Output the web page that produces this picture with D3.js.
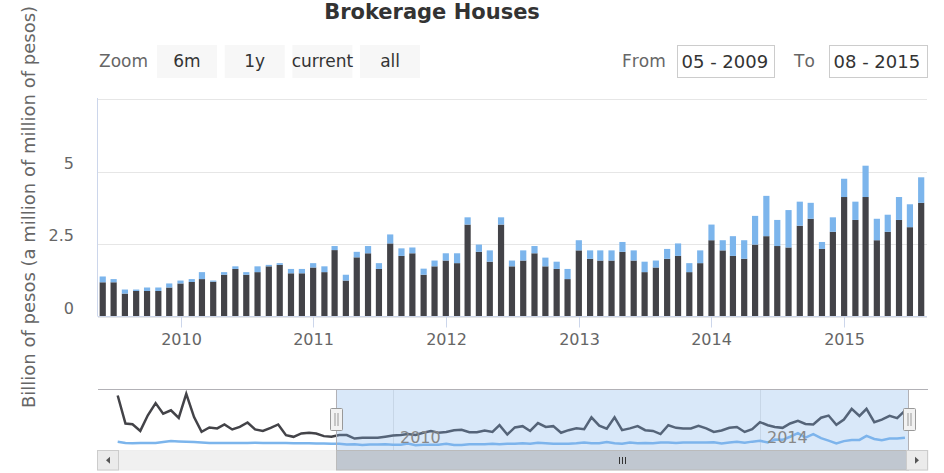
<!DOCTYPE html>
<html>
<head>
<meta charset="utf-8">
<script src="https://cdn.jsdelivr.net/npm/d3@7"></script>
<style>
body { margin: 0; background: #fff; }
svg { display: block; font-family: 'DejaVu Sans', sans-serif; }
</style>
</head>
<body>
<svg id="chart" width="944" height="473"></svg>
<script>
var chartTitle = 'Brokerage Houses';
var yAxisTitle = 'Billion of pesos (a million of million of pesos)';
var zoomLabel = 'Zoom';
var zoomButtons = ['6m', '1y', 'current', 'all'];
var rangeFrom = '05 - 2009', rangeTo = '08 - 2015';

// monthly values, first month = Jan 2007
var firstYear = 2007;
var darkSeries = [
	5.63, 2.48, 2.40, 1.65, 3.40, 4.77, 3.59, 3.96, 3.10, 5.82, 3.20, 1.54,   // 2007
	2.03, 1.92, 2.37, 1.81, 2.10, 2.59, 1.81, 1.65, 1.99, 2.37, 1.17, 0.98,   // 2008
	1.36, 1.43, 1.36, 1.06, 0.98, 1.18, 1.18, 0.79, 0.88, 0.88, 0.88, 1.00,   // 2009
	1.14, 1.19, 1.29, 1.20, 1.44, 1.64, 1.44, 1.53, 1.73, 1.78, 1.49, 1.49,   // 2010
	1.69, 1.53, 2.29, 1.24, 2.04, 2.18, 1.64, 2.52, 2.09, 2.18, 1.44, 1.73,   // 2011
	1.93, 1.84, 3.17, 2.23, 1.89, 3.17, 1.73, 1.93, 2.18, 1.73, 1.64, 1.29,   // 2012
	2.28, 1.99, 1.93, 1.93, 2.23, 1.93, 1.53, 1.69, 1.99, 2.09, 1.53, 1.84,   // 2013
	2.63, 2.28, 2.09, 1.99, 2.48, 2.77, 2.43, 2.38, 3.13, 3.37, 2.33, 2.92,   // 2014
	4.12, 3.33, 4.12, 2.63, 2.92, 3.33, 3.08, 3.92                            // 2015
];
var blueSeries = [
	0.42, 0.30, 0.25, 0.30, 0.30, 0.30, 0.40, 0.50, 0.45, 0.42, 0.40, 0.35,
	0.30, 0.30, 0.30, 0.28, 0.30, 0.30, 0.32, 0.28, 0.30, 0.30, 0.28, 0.25,
	0.25, 0.25, 0.22, 0.22, 0.20, 0.20, 0.11, 0.14, 0.05, 0.12, 0.12, 0.14,
	0.10, 0.10, 0.24, 0.04, 0.09, 0.09, 0.09, 0.20, 0.05, 0.06, 0.15, 0.15,
	0.15, 0.20, 0.14, 0.20, 0.19, 0.25, 0.20, 0.31, 0.26, 0.20, 0.21, 0.20,
	0.25, 0.34, 0.25, 0.25, 0.39, 0.25, 0.20, 0.35, 0.25, 0.30, 0.25, 0.35,
	0.35, 0.29, 0.35, 0.35, 0.34, 0.35, 0.36, 0.24, 0.34, 0.43, 0.31, 0.44,
	0.54, 0.35, 0.68, 0.64, 0.99, 1.39, 0.90, 1.29, 0.83, 0.55, 0.24, 0.50,
	0.63, 0.63, 1.08, 0.74, 0.59, 0.79, 0.79, 0.88
];

var yTicks = [0, 2.5, 5, 7.5];
var yTickLabels = ['0', '2.5', '5', ''];
var xYears = [2010, 2011, 2012, 2013, 2014, 2015];
var navYears = [2010, 2014];

var colorBlue = '#7cb5ec', colorDark = '#434348';

var svg = d3.select('#chart');

// visible window of the main chart (May 19 2009 - Aug 17 2015)
var viewStart = new Date(Date.UTC(2009, 4, 19)),
	viewEnd = new Date(Date.UTC(2015, 7, 17));

var plot = {l: 98, r: 927, t: 98, b: 316.5};

var rows = darkSeries.map(function(v, i) {
	return {date: new Date(Date.UTC(firstYear, i, 1)), dark: v, blue: blueSeries[i]};
});

var x = d3.scaleUtc().domain([viewStart, viewEnd]).range([plot.l, plot.r]);
var y = d3.scaleLinear().domain([0, 7.5]).range([plot.b, 99]);

// Title
svg.append('text').attr('x', 432).attr('y', 19).attr('text-anchor', 'middle').
	style('font-size', '21px').style('font-weight', 'bold').style('fill', '#333').
	text(chartTitle);

// Range selector buttons
svg.append('text').attr('x', 99).attr('y', 67).style('font-size', '17px').style('fill', '#666').
	text(zoomLabel);

var btn = svg.append('g').selectAll('g').data(zoomButtons).enter().append('g').
	attr('transform', function(d, i) { return 'translate(' + (157 + i * 67.7) + ',45)'; });
btn.append('rect').attr('width', 60).attr('height', 33).style('fill', '#f7f7f7');
btn.append('text').attr('x', 30).attr('y', 22).attr('text-anchor', 'middle').
	style('font-size', '17px').style('fill', '#333').text(function(d) { return d; });

// From / To inputs
var inputs = [
	{label: 'From', value: rangeFrom, lx: 622, bx: 677.5, bw: 97},
	{label: 'To', value: rangeTo, lx: 794, bx: 829.5, bw: 98}
];
inputs.forEach(function(inp) {
	svg.append('text').attr('x', inp.lx).attr('y', 67).
		style('font-size', '17px').style('font-kerning', 'none').style('fill', '#666').text(inp.label);
	svg.append('rect').attr('x', inp.bx).attr('y', 45.5).attr('width', inp.bw).attr('height', 32).
		style('fill', '#fff').style('stroke', '#ccc');
	svg.append('text').attr('x', inp.bx + 4).attr('y', 67.5).
		style('font-size', '18px').style('fill', '#333').text(inp.value);
});

// Grid lines
svg.append('g').selectAll('line').data(yTicks).enter().append('line').
	attr('x1', plot.l).attr('x2', plot.r).
	attr('y1', function(d) { return Math.round(y(d)) + 0.5; }).
	attr('y2', function(d) { return Math.round(y(d)) + 0.5; }).
	style('stroke', '#e6e6e6');

// Y axis
svg.append('line').attr('x1', 97.5).attr('x2', 97.5).attr('y1', plot.t).attr('y2', plot.b).
	style('stroke', '#ccd6eb');
svg.append('g').selectAll('text').data(yTicks).enter().append('text').
	attr('x', 74).attr('y', function(d) { return y(d) - 3; }).attr('text-anchor', 'end').
	style('font-size', '16px').style('fill', '#666').
	text(function(d, i) { return yTickLabels[i]; });

svg.append('text').attr('transform', 'translate(35,207) rotate(-90)').attr('text-anchor', 'middle').
	style('font-size', '18px').style('fill', '#666').text(yAxisTitle);

// Bars
svg.append('clipPath').attr('id', 'plot-clip').append('rect').
	attr('x', plot.l).attr('y', plot.t).attr('width', plot.r - plot.l).attr('height', plot.b - plot.t);

var stacked = d3.stack().keys(['dark', 'blue'])(rows);
var monthPx = x(new Date(Date.UTC(2010, 1, 1))) - x(new Date(Date.UTC(2010, 0, 1)));
var bw = monthPx * 0.55;

var bars = svg.append('g').attr('clip-path', 'url(#plot-clip)');
bars.selectAll('g').data(stacked).enter().append('g').
	style('fill', function(d) { return d.key == 'dark' ? colorDark : colorBlue; }).
	selectAll('rect').data(function(d) { return d; }).enter().append('rect').
	attr('x', function(d) { return x(d.data.date) - bw / 2; }).
	attr('y', function(d) { return y(d[1]); }).
	attr('width', bw).
	attr('height', function(d) { return y(d[0]) - y(d[1]); });

// X axis
svg.append('line').attr('x1', plot.l).attr('x2', plot.r).attr('y1', plot.b).attr('y2', plot.b).
	style('stroke', '#ccd6eb');
var xt = svg.append('g').selectAll('g').data(xYears).enter().append('g').
	attr('transform', function(d) { return 'translate(' + (Math.round(x(new Date(Date.UTC(d, 0, 1)))) + 0.5) + ',0)'; });
xt.append('line').attr('y1', plot.b).attr('y2', plot.b + 11).style('stroke', '#ccd6eb');
xt.append('text').attr('y', 345).attr('text-anchor', 'middle').
	style('font-size', '16px').style('fill', '#666').text(function(d) { return d; });

// Navigator
var nav = {l: 98, r: 928, t: 389.5, b: 450};
var navX = d3.scaleUtc().domain([new Date(Date.UTC(2010, 0, 1)), new Date(Date.UTC(2014, 0, 1))]).range([393, 760]);
var navY = d3.scaleLinear().domain([-0.5, 6.3]).range([nav.b, nav.t]);

svg.append('clipPath').attr('id', 'nav-clip').append('rect').
	attr('x', nav.l).attr('y', nav.t).attr('width', nav.r - nav.l).attr('height', nav.b - nav.t);

var navG = svg.append('g').attr('clip-path', 'url(#nav-clip)');

navG.selectAll('line.grid').data(navYears).enter().append('line').attr('class', 'grid').
	attr('x1', function(d) { return Math.round(navX(new Date(Date.UTC(d, 0, 1)))) + 0.5; }).
	attr('x2', function(d) { return Math.round(navX(new Date(Date.UTC(d, 0, 1)))) + 0.5; }).
	attr('y1', nav.t).attr('y2', nav.b).style('stroke', '#e6e6e6');

var navLine = function(key) {
	return d3.line().x(function(d) { return navX(d.date); }).y(function(d) { return navY(d[key]); });
};
navG.append('path').datum(rows).attr('d', navLine('blue')).
	style('fill', 'none').style('stroke', colorBlue).style('stroke-width', 2.5);
navG.append('path').datum(rows).attr('d', navLine('dark')).
	style('fill', 'none').style('stroke', colorDark).style('stroke-width', 2.5);

var m0 = navX(viewStart), m1 = navX(viewEnd);
navG.append('rect').attr('x', m0).attr('y', nav.t).attr('width', m1 - m0).attr('height', nav.b - nav.t).
	style('fill', 'rgba(128,179,236,0.3)');

navG.selectAll('text').data(navYears).enter().append('text').
	attr('x', function(d) { return navX(new Date(Date.UTC(d, 0, 1))) + 7; }).attr('y', 443).
	style('font-size', '16px').style('fill', '#888').text(function(d) { return d; });

// outline
svg.append('path').
	attr('d', 'M' + nav.l + ',' + nav.t + 'H' + nav.r +
		'M' + (Math.round(m0) + 0.5) + ',' + nav.t + 'V' + nav.b +
		'M' + (Math.round(m1) - 0.5) + ',' + nav.t + 'V' + nav.b).
	style('fill', 'none').style('stroke', '#b2b1b6');

// Scrollbar
var sb = {t: 450.5, h: 19.5};
svg.append('rect').attr('x', nav.l).attr('y', sb.t).attr('width', nav.r - nav.l).attr('height', sb.h).
	style('fill', '#f0f0f0').style('stroke', '#eee');
svg.append('rect').attr('x', Math.round(m0) + 0.5).attr('y', sb.t).attr('width', Math.round(m1 - m0) - 1).attr('height', sb.h).
	style('fill', '#c0c7d0').style('stroke', '#bbb');
var gripX = Math.round((m0 + m1) / 2) + 0.5;
[-3, 0, 3].forEach(function(o) {
	svg.append('line').attr('x1', gripX + o).attr('x2', gripX + o).attr('y1', 457).attr('y2', 464).
		style('stroke', '#333');
});

var sbButtons = [{x: 97.5, dir: -1}, {x: 906.5, dir: 1}];
sbButtons.forEach(function(b) {
	svg.append('rect').attr('x', b.x).attr('y', sb.t).attr('width', 21).attr('height', sb.h).
		style('fill', '#ebebeb').style('stroke', '#ccc');
	var cx = b.x + 10.5, cy = sb.t + sb.h / 2;
	svg.append('path').
		attr('d', 'M' + (cx - 2 * b.dir) + ',' + (cy - 3.5) + 'L' + (cx + 2 * b.dir) + ',' + cy +
			'L' + (cx - 2 * b.dir) + ',' + (cy + 3.5) + 'Z').
		style('fill', '#555');
});

// navigator handles
[m0, m1].forEach(function(mx) {
	var hx = Math.round(mx) + 0.5;
	svg.append('rect').attr('x', hx - 6).attr('y', 408.5).attr('width', 12).attr('height', 22).
		attr('rx', 1).style('fill', '#f2f2f2').style('stroke', '#999');
	[-1.5, 1.5].forEach(function(o) {
		svg.append('line').attr('x1', hx + o).attr('x2', hx + o).attr('y1', 413).attr('y2', 426).
			style('stroke', '#999');
	});
});
</script>
</body>
</html>
